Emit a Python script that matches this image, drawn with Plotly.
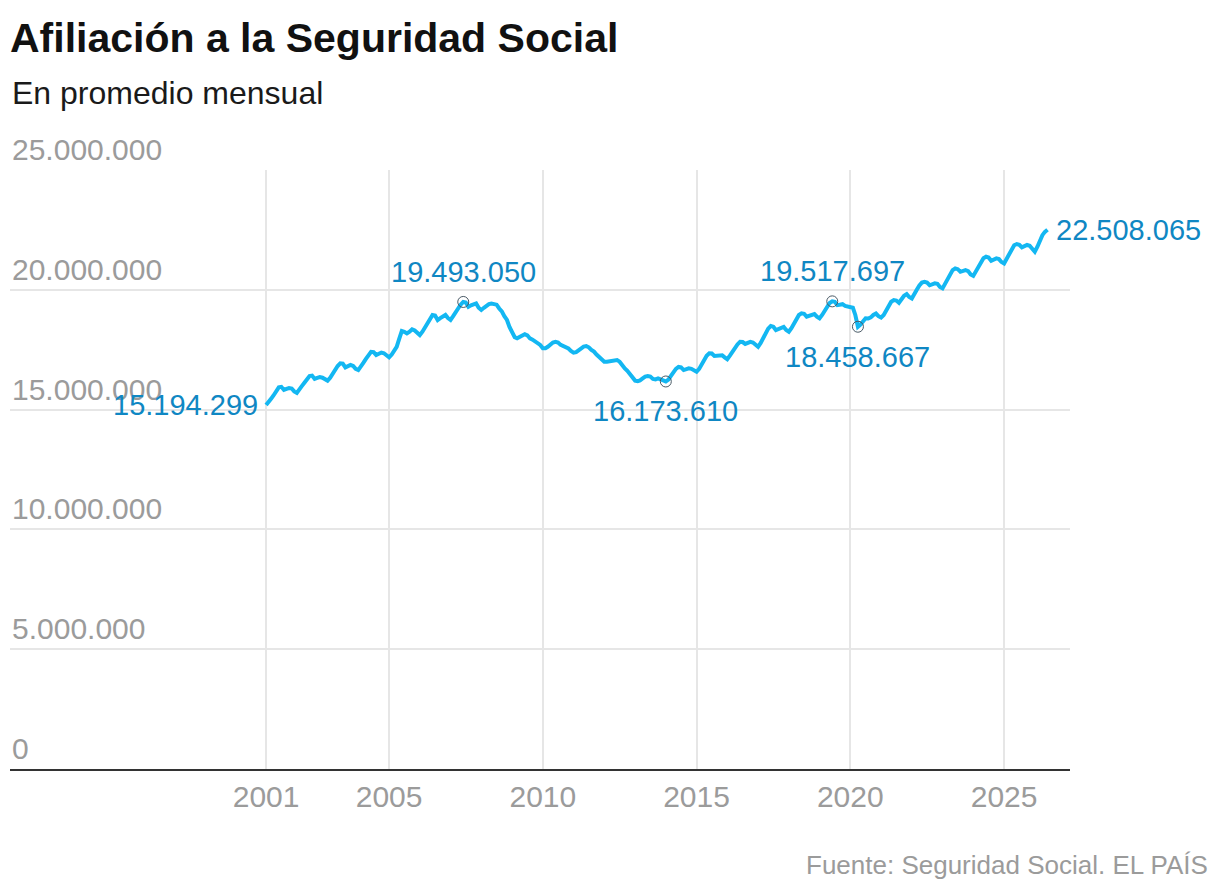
import pandas as pd
import plotly.graph_objects as go

# Afiliados medios mensuales (millones), enero 2001 - junio 2026
afil_2001 = [15.194299, 15.30, 15.45, 15.60, 15.78, 15.93, 15.95, 15.82, 15.86, 15.90, 15.88, 15.76]
afil_2002 = [15.70, 15.82, 15.98, 16.12, 16.28, 16.40, 16.42, 16.28, 16.32, 16.36, 16.33, 16.25]
afil_2003 = [16.21, 16.33, 16.50, 16.65, 16.82, 16.93, 16.92, 16.76, 16.82, 16.86, 16.82, 16.70]
afil_2004 = [16.65, 16.78, 16.95, 17.12, 17.28, 17.41, 17.40, 17.28, 17.33, 17.38, 17.35, 17.24]
afil_2005 = [17.18, 17.30, 17.45, 17.62, 17.95, 18.28, 18.25, 18.18, 18.25, 18.35, 18.30, 18.18]
afil_2006 = [18.11, 18.25, 18.42, 18.60, 18.80, 18.95, 18.93, 18.74, 18.82, 18.90, 18.95, 18.82]
afil_2007 = [18.74, 18.90, 19.08, 19.22, 19.38, 19.493050, 19.47, 19.29, 19.35, 19.40, 19.43, 19.25]
afil_2008 = [19.16, 19.25, 19.33, 19.40, 19.43, 19.42, 19.38, 19.22, 19.10, 18.90, 18.74, 18.45]
afil_2009 = [18.18, 18.02, 17.98, 18.05, 18.12, 18.15, 18.10, 17.97, 17.92, 17.86, 17.79, 17.70]
afil_2010 = [17.56, 17.56, 17.62, 17.72, 17.80, 17.83, 17.80, 17.70, 17.66, 17.62, 17.55, 17.45]
afil_2011 = [17.38, 17.40, 17.48, 17.58, 17.63, 17.65, 17.60, 17.49, 17.42, 17.30, 17.18, 17.07]
afil_2012 = [17.00, 17.00, 17.02, 17.05, 17.07, 17.07, 17.00, 16.82, 16.72, 16.62, 16.50, 16.38]
afil_2013 = [16.21, 16.19, 16.22, 16.30, 16.38, 16.40, 16.38, 16.28, 16.26, 16.30, 16.28, 16.22]
afil_2014 = [16.173610, 16.25, 16.40, 16.58, 16.70, 16.78, 16.76, 16.65, 16.68, 16.72, 16.70, 16.62]
afil_2015 = [16.58, 16.70, 16.90, 17.08, 17.25, 17.35, 17.34, 17.24, 17.26, 17.28, 17.27, 17.18]
afil_2016 = [17.10, 17.25, 17.42, 17.58, 17.72, 17.83, 17.82, 17.74, 17.78, 17.83, 17.80, 17.70]
afil_2017 = [17.62, 17.78, 17.98, 18.20, 18.38, 18.49, 18.46, 18.32, 18.38, 18.42, 18.45, 18.32]
afil_2018 = [18.25, 18.40, 18.60, 18.80, 18.95, 19.02, 19.00, 18.88, 18.93, 18.97, 18.99, 18.88]
afil_2019 = [18.81, 18.95, 19.12, 19.30, 19.45, 19.517697, 19.50, 19.36, 19.38, 19.40, 19.33, 19.30]
afil_2020 = [19.29, 19.25, 18.95, 18.458667, 18.55, 18.70, 18.81, 18.80, 18.85, 18.95, 19.01, 18.90]
afil_2021 = [18.84, 18.95, 19.15, 19.35, 19.50, 19.57, 19.55, 19.46, 19.62, 19.75, 19.82, 19.70]
afil_2022 = [19.64, 19.80, 20.00, 20.18, 20.30, 20.33, 20.30, 20.19, 20.22, 20.27, 20.25, 20.12]
afil_2023 = [20.06, 20.25, 20.45, 20.65, 20.82, 20.89, 20.86, 20.75, 20.78, 20.82, 20.78, 20.64]
afil_2024 = [20.58, 20.75, 20.95, 21.15, 21.32, 21.38, 21.35, 21.21, 21.26, 21.31, 21.28, 21.16]
afil_2025 = [21.10, 21.30, 21.50, 21.70, 21.86, 21.91, 21.88, 21.77, 21.82, 21.87, 21.84, 21.70]
afil_2026 = [21.59, 21.80, 22.05, 22.28, 22.42, 22.508065]

afiliados = (afil_2001 + afil_2002 + afil_2003 + afil_2004 + afil_2005 + afil_2006
             + afil_2007 + afil_2008 + afil_2009 + afil_2010 + afil_2011 + afil_2012
             + afil_2013 + afil_2014 + afil_2015 + afil_2016 + afil_2017 + afil_2018
             + afil_2019 + afil_2020 + afil_2021 + afil_2022 + afil_2023 + afil_2024
             + afil_2025 + afil_2026)
afiliados = [round(v * 1e6) for v in afiliados]
fechas = pd.date_range("2001-01-01", periods=len(afiliados), freq="MS")

# maximos y minimos marcados con circulo
fechas_marcadas = ["2007-06-01", "2014-01-01", "2019-06-01", "2020-04-01"]
posicion_etiqueta = ["arriba", "abajo", "arriba", "abajo"]

years_ticks = [2001, 2005, 2010, 2015, 2020, 2025]
y_ticks = [0, 5000000, 10000000, 15000000, 20000000, 25000000]

LINE_COLOR = "#13b7f2"
LABEL_COLOR = "#0f87c3"
GRAY = "#9b9b9b"
FONT = "Liberation Sans"


def miles(v):
    return f"{v:,}".replace(",", ".")


serie = pd.Series(afiliados, index=fechas)

fig = go.Figure()
fig.add_trace(go.Scatter(x=fechas, y=afiliados, mode="lines",
                         line=dict(color=LINE_COLOR, width=4),
                         hoverinfo="skip", showlegend=False))

marc_x = pd.to_datetime(fechas_marcadas)
marc_y = [serie[d] for d in marc_x]
fig.add_trace(go.Scatter(x=marc_x, y=marc_y, mode="markers",
                         marker=dict(size=11, color="rgba(0,0,0,0)",
                                     line=dict(color="#4a5a66", width=1)),
                         hoverinfo="skip", showlegend=False))

annotations = []
# etiquetas del eje y por encima de cada linea de rejilla
for v in y_ticks:
    annotations.append(dict(x=0, y=v, xref="paper", yref="y", text=miles(v),
                            showarrow=False, xanchor="left", yanchor="bottom",
                            yshift=2, font=dict(size=30, color=GRAY, family=FONT)))

for d, v, pos in zip(marc_x, marc_y, posicion_etiqueta):
    annotations.append(dict(
        x=d, y=v, xref="x", yref="y", text=miles(v), showarrow=False,
        xanchor="center", yanchor="bottom" if pos == "arriba" else "top",
        yshift=12 if pos == "arriba" else -12,
        font=dict(size=29, color=LABEL_COLOR, family=FONT)))

# primer y ultimo dato
annotations.append(dict(x=fechas[0], y=afiliados[0], xref="x", yref="y",
                        text=miles(afiliados[0]), showarrow=False,
                        xanchor="right", yanchor="middle", xshift=-6,
                        font=dict(size=29, color=LABEL_COLOR, family=FONT)))
annotations.append(dict(x=fechas[-1], y=afiliados[-1], xref="x", yref="y",
                        text=miles(afiliados[-1]), showarrow=False,
                        xanchor="left", yanchor="middle", xshift=6,
                        font=dict(size=29, color=LABEL_COLOR, family=FONT)))

annotations.append(dict(x=0, y=1.1285, xref="paper", yref="paper",
                        text="En promedio mensual", showarrow=False,
                        xanchor="left", yanchor="middle",
                        font=dict(size=32, color="#1a1a1a", family=FONT)))
annotations.append(dict(x=1.132, y=-0.160, xref="paper", yref="paper",
                        text="Fuente: Seguridad Social. EL PAÍS", showarrow=False,
                        xanchor="right", yanchor="middle",
                        font=dict(size=26, color=GRAY, family=FONT)))

fig.update_layout(
    width=1220, height=896,
    margin=dict(l=2, r=158, t=162, b=135),
    paper_bgcolor="white", plot_bgcolor="white",
    title=dict(text="<b>Afiliación a la Seguridad Social</b>",
               x=2 / 1220, xanchor="left", y=1 - 30 / 896, yanchor="middle",
               font=dict(size=41, color="#111111", family=FONT)),
    annotations=annotations,
    xaxis=dict(type="date",
               range=["1992-09-03", "2027-02-23"],
               tickvals=[f"{y}-01-01" for y in years_ticks],
               ticktext=[str(y) for y in years_ticks],
               showgrid=True, gridcolor="#e6e6e6", gridwidth=1.5,
               showline=True, linecolor="#333333", linewidth=2,
               ticks="", ticklen=0,
               tickfont=dict(size=30, color=GRAY, family=FONT),
               zeroline=False),
    yaxis=dict(range=[0, 25000000],
               tickvals=y_ticks,
               showticklabels=False,
               showgrid=True, gridcolor="#e6e6e6", gridwidth=1.5,
               showline=False, zeroline=False, ticks=""),
)

fig.write_html("out.html")
